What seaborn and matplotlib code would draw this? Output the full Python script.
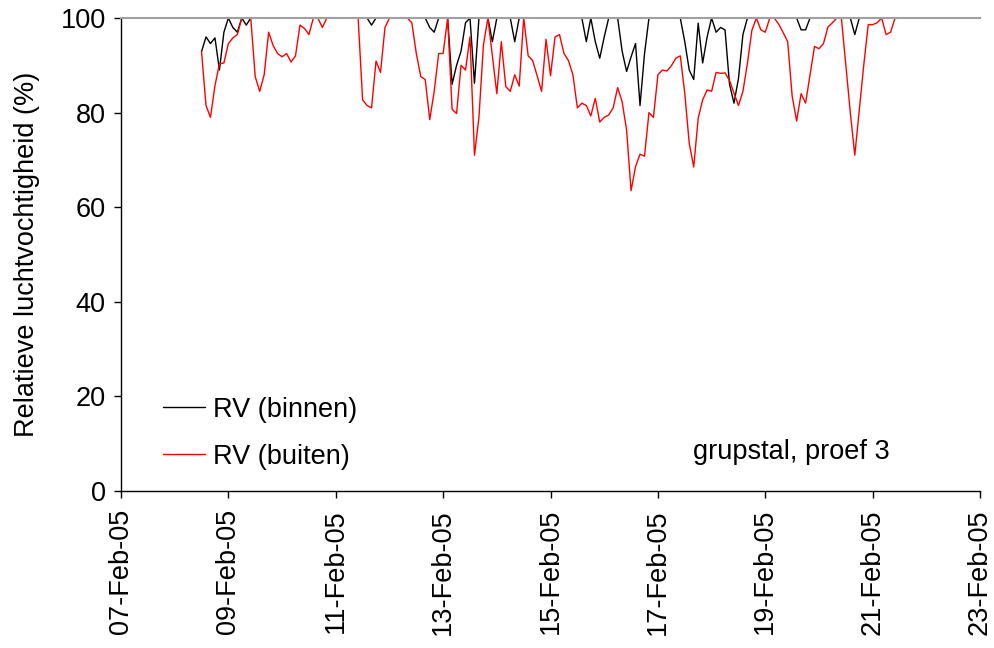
import numpy as np
import pandas as pd
import seaborn as sns
from matplotlib import pyplot as plt
import matplotlib.dates as mdates

# relatieve luchtvochtigheid, 2-uurs waarden vanaf 08-Feb-05 12:00
start = "2005-02-08 12:00"

rv_buiten = [
    92.9, 81.5, 79.0, 85.7, 90.3, 90.5, 94.6, 95.8, 96.5, 100, 100, 100,
    87.6, 84.5, 88.0, 97.0, 94.2, 92.5, 91.8, 92.5, 90.7, 92.0, 98.5, 97.8,
    96.5, 100, 100, 98.0, 100, 100, 100, 100, 100, 100, 100, 100,
    82.7, 81.5, 81.0, 90.9, 88.5, 98.0, 100, 100, 100, 100, 100, 99.0,
    92.5, 87.6, 87.0, 78.5, 84.5, 92.5, 92.5, 100, 80.7, 79.8, 90.0, 89.0,
    96.0, 71.0, 79.0, 94.3, 100, 92.0, 84.0, 95.0, 85.5, 84.5, 88.0, 85.6,
    100, 92.0, 91.0, 87.8, 84.5, 95.5, 87.8, 96.0, 96.5, 92.5, 91.0, 88.0,
    81.0, 82.0, 81.5, 79.3, 83.0, 78.0, 79.0, 79.5, 81.0, 85.3, 82.3, 76.3,
    63.5, 68.6, 71.2, 70.8, 80.0, 79.0, 88.0, 89.0, 88.8, 89.9, 91.5, 92.0,
    84.1, 73.5, 68.5, 78.8, 82.7, 84.8, 84.5, 88.5, 88.3, 88.4, 86.8, 84.1,
    81.5, 84.5, 90.4, 97.4, 100, 97.5, 97.0, 100, 100, 98.7, 96.9, 95.0,
    83.5, 78.2, 84.0, 82.0, 88.0, 94.0, 93.5, 94.6, 98.1, 99.0, 100, 100,
    90.0, 80.0, 71.0, 80.5, 90.0, 98.6, 98.6, 99.0, 100, 96.5, 97.0, 100,
]

rv_binnen = [
    92.9, 96.0, 94.6, 95.8, 89.0, 97.0, 100, 98.0, 97.0, 100, 98.5, 100,
    100, 100, 100, 100, 100, 100, 100, 100, 100, 100, 100, 100,
    100, 100, 100, 100, 100, 100, 100, 100, 100, 100, 100, 100,
    100, 100, 98.5, 100, 100, 100, 100, 100, 100, 100, 100, 100,
    100, 100, 100, 98.0, 97.0, 100, 100, 100, 86.0, 90.0, 93.0, 99.0,
    100, 86.2, 100, 100, 100, 95.0, 100, 100, 100, 100, 95.0, 100,
    100, 100, 100, 100, 100, 100, 100, 100, 100, 100, 100, 100,
    100, 100, 95.0, 100, 95.0, 91.5, 96.0, 100, 100, 100, 93.0, 88.7,
    91.8, 94.6, 81.5, 92.4, 100, 100, 100, 100, 100, 100, 100, 100,
    95.0, 89.0, 87.0, 98.9, 90.5, 96.0, 100, 97.0, 98.0, 97.5, 86.0, 82.0,
    87.2, 96.5, 100, 100, 100, 100, 100, 100, 100, 100, 100, 100,
    100, 100, 97.5, 97.5, 100, 100, 100, 100, 100, 100, 100, 100,
    100, 100, 96.5, 100, 100, 100, 100, 100, 100, 100, 100, 100,
]

labels = ["RV (binnen)", "RV (buiten)"]
kleuren = ["black", "red"]
x_ticks = pd.date_range("2005-02-07", "2005-02-23", freq="2D")
y_ticks = [0, 20, 40, 60, 80, 100]

tijd = pd.date_range(start, periods=len(rv_buiten), freq="2h")
df = pd.concat([
    pd.DataFrame({"tijd": tijd, "RV": rv_binnen, "reeks": labels[0]}),
    pd.DataFrame({"tijd": tijd, "RV": rv_buiten, "reeks": labels[1]}),
])

sns.set_theme(style="ticks", rc={"text.color": "black", "axes.labelcolor": "black",
                                 "xtick.color": "black", "ytick.color": "black"})
plt.rcParams["font.family"] = ["Liberation Sans", "DejaVu Sans"]
fs = 19.5

fig = plt.figure(figsize=(9.95, 6.48), dpi=100)
ax = fig.add_axes([0.1216, 0.2423, 0.8634, 0.7299])

sns.lineplot(data=df, x="tijd", y="RV", hue="reeks", hue_order=labels,
             palette=dict(zip(labels, kleuren)), linewidth=1.0, ax=ax)

ax.set_xlim(x_ticks[0], x_ticks[-1])
ax.set_ylim(0, 100)
ax.set_xticks(x_ticks)
ax.set_yticks(y_ticks)
ax.xaxis.set_major_formatter(mdates.DateFormatter("%d-%b-%y"))
ax.tick_params(axis="x", rotation=90, labelsize=fs, length=5, width=1, pad=8)
ax.tick_params(axis="y", labelsize=fs, length=5, width=1, pad=6)
ax.set_xlabel("")
ax.set_ylabel("Relatieve luchtvochtigheid (%)", fontsize=fs, labelpad=15)

ax.spines["right"].set_visible(False)
ax.spines["top"].set_color("#a0a0a0")
ax.spines["top"].set_linewidth(1.5)
for s in ["left", "bottom"]:
    ax.spines[s].set_color("black")
    ax.spines[s].set_linewidth(1)

leg = ax.legend(title=None, loc="center left", bbox_to_anchor=(0.049, 0.122),
                frameon=False, fontsize=fs, borderpad=0, borderaxespad=0,
                handlelength=1.55, handletextpad=0.3, labelspacing=0.78)
for t in leg.get_texts():
    t.set_color("black")

ax.text(0.895, 0.0825, "grupstal, proef 3", transform=ax.transAxes,
        ha="right", va="center", fontsize=fs, color="black")

fig.savefig("out.png", dpi=100)
